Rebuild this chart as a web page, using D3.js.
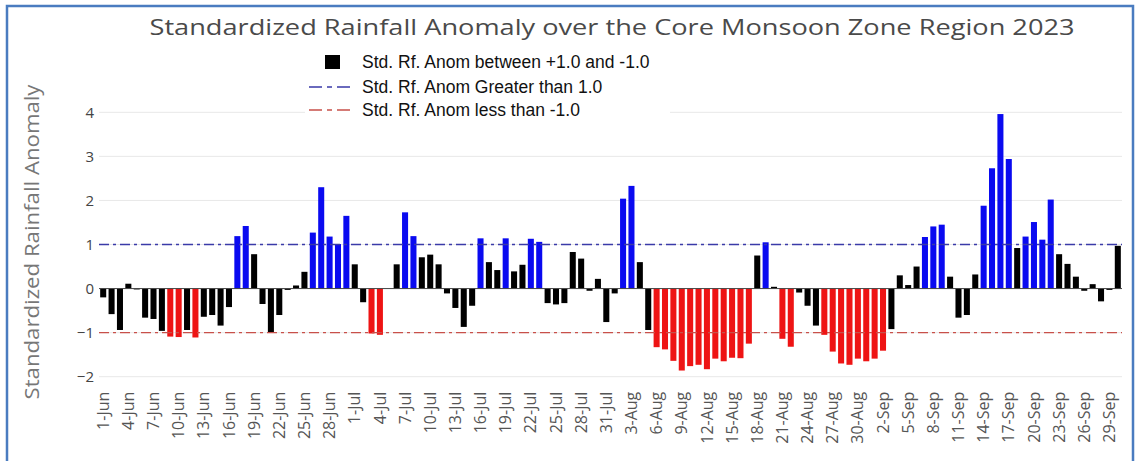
<!DOCTYPE html>
<html>
<head>
<meta charset="utf-8">
<script src="https://cdn.jsdelivr.net/npm/d3@7"></script>
<style>
  html, body { margin: 0; padding: 0; background: #fff; }
  svg { display: block; }
</style>
</head>
<body>
<svg id="chart" width="1135" height="461"></svg>
<script>
// Daily standardized rainfall anomaly, 1 Jun – 30 Sep 2023
const months = ["Jun", "Jul", "Aug", "Sep"];
const monthDays = [30, 31, 31, 30];

const junValues = [
  -0.20, -0.58, -0.94, 0.11, -0.02, -0.66, -0.69, -0.96, -1.09, -1.10,
  -0.94, -1.11, -0.64, -0.60, -0.84, -0.42, 1.19, 1.42, 0.78, -0.35,
  -0.99, -0.60, -0.03, 0.07, 0.38, 1.27, 2.30, 1.18, 1.01, 1.65
];
const julValues = [
  0.55, -0.31, -1.02, -1.05, 0.00, 0.55, 1.73, 1.19, 0.71, 0.77,
  0.55, -0.11, -0.44, -0.87, -0.39, 1.14, 0.60, 0.42, 1.14, 0.39,
  0.54, 1.13, 1.06, -0.33, -0.36, -0.33, 0.83, 0.68, -0.05, 0.22,
  -0.76
];
const augValues = [
  -0.11, 2.04, 2.33, 0.60, -0.94, -1.33, -1.38, -1.64, -1.86, -1.76,
  -1.73, -1.83, -1.59, -1.65, -1.57, -1.58, -1.25, 0.75, 1.05, 0.04,
  -1.14, -1.32, -0.09, -0.39, -0.84, -1.05, -1.43, -1.70, -1.73, -1.59,
  -1.65
];
const sepValues = [
  -1.59, -1.41, -0.92, 0.30, 0.08, 0.50, 1.17, 1.41, 1.45, 0.27,
  -0.66, -0.60, 0.32, 1.88, 2.73, 3.96, 2.94, 0.92, 1.18, 1.51,
  1.11, 2.02, 0.78, 0.56, 0.27, -0.05, 0.10, -0.29, -0.03, 0.97
];

const tickLabels = [
  "1-Jun", "4-Jun", "7-Jun", "10-Jun", "13-Jun", "16-Jun", "19-Jun", "22-Jun", "25-Jun", "28-Jun",
  "1-Jul", "4-Jul", "7-Jul", "10-Jul", "13-Jul", "16-Jul", "19-Jul", "22-Jul", "25-Jul", "28-Jul", "31-Jul",
  "3-Aug", "6-Aug", "9-Aug", "12-Aug", "15-Aug", "18-Aug", "21-Aug", "24-Aug", "27-Aug", "30-Aug",
  "2-Sep", "5-Sep", "8-Sep", "11-Sep", "14-Sep", "17-Sep", "20-Sep", "23-Sep", "26-Sep", "29-Sep"
];
const yTicks = [-2, -1, 0, 1, 2, 3, 4];

const legendItems = [
  "Std. Rf. Anom between +1.0 and -1.0",
  "Std. Rf. Anom Greater than 1.0",
  "Std. Rf. Anom less than -1.0"
];

const titleText = "Standardized Rainfall Anomaly over the Core Monsoon Zone Region 2023";
const yTitle = "Standardized Rainfall Anomaly";

// Category labels for every day of the season
const dates = [];
months.forEach((m, i) => {
  for (let d = 1; d <= monthDays[i]; d++) dates.push(d + "-" + m);
});
const values = [].concat(junValues, julValues, augValues, sepValues);
const data = dates.map((d, i) => ({ date: d, value: values[i] }));

const svg = d3.select("#chart");
const W = 1135, H = 461;
const plot = { left: 99, right: 1122, top: 112.3, bottom: 376.7 };

svg.append("rect").attr("width", W).attr("height", H).attr("fill", "#fff");

const x = d3.scaleBand()
  .domain(dates)
  .range([plot.left, plot.right])
  .paddingInner(0.28)
  .paddingOuter(0.14);

const y = d3.scaleLinear()
  .domain([-2, 4])
  .range([plot.bottom, plot.top]);

const font = "'Open Sans', 'DejaVu Sans', sans-serif";

// Horizontal grid
svg.append("g")
  .selectAll("line")
  .data(yTicks.filter(t => t !== 0))
  .join("line")
  .attr("x1", plot.left).attr("x2", plot.right)
  .attr("y1", d => y(d)).attr("y2", d => y(d))
  .attr("stroke", "#e8e8e8").attr("stroke-width", 1);

// Y axis tick labels
const yAxis = d3.axisLeft(y)
  .tickValues(yTicks)
  .tickSize(0)
  .tickPadding(4)
  .tickFormat(d => d < 0 ? "\u2212" + Math.abs(d) : String(d));
const gy = svg.append("g")
  .attr("transform", `translate(${plot.left - 1},0)`)
  .call(yAxis);
gy.select(".domain").remove();
gy.selectAll("text")
  .attr("font-family", font)
  .attr("font-size", 15)
  .attr("fill", "#444");

// Bars
function barColor(v) {
  if (v > 1) return "#0a0af0";
  if (v < -1) return "#ee1414";
  return "#000";
}
svg.append("g")
  .selectAll("rect")
  .data(data)
  .join("rect")
  .attr("x", d => x(d.date))
  .attr("width", x.bandwidth())
  .attr("y", d => y(Math.max(0, d.value)))
  .attr("height", d => Math.abs(y(d.value) - y(0)))
  .attr("fill", d => barColor(d.value));

// Zero line
svg.append("line")
  .attr("x1", plot.left).attr("x2", plot.right)
  .attr("y1", y(0)).attr("y2", y(0))
  .attr("stroke", "#444").attr("stroke-width", 1);

// Threshold lines at +1 and -1
const thresholds = [
  { v: 1, color: "#3a3aa8" },
  { v: -1, color: "#c8504a" }
];
svg.append("g")
  .selectAll("line")
  .data(thresholds)
  .join("line")
  .attr("x1", plot.left).attr("x2", plot.right)
  .attr("y1", d => y(d.v)).attr("y2", d => y(d.v))
  .attr("stroke", d => d.color)
  .attr("stroke-width", 1.3)
  .attr("stroke-dasharray", "10,4,3,4");

// X axis tick labels (every third day)
const xAxis = d3.axisBottom(x)
  .tickValues(tickLabels)
  .tickSize(0)
  .tickPadding(0);
const gx = svg.append("g")
  .attr("transform", `translate(0,${plot.bottom})`)
  .call(xAxis);
gx.select(".domain").remove();
gx.selectAll("text")
  .attr("font-family", font)
  .attr("font-size", 16)
  .attr("fill", "#555")
  .attr("text-anchor", "end")
  .attr("dy", "0.35em")
  .attr("y", 0)
  .attr("transform", "translate(0,15) rotate(-90)");

// Legend
const lg = svg.append("g");
lg.append("rect")
  .attr("x", 305).attr("y", 48).attr("width", 365).attr("height", 72)
  .attr("fill", "#fff");
const rowY = [62, 87, 110];
lg.append("rect")
  .attr("x", 325).attr("y", 55).attr("width", 15).attr("height", 14)
  .attr("fill", "#000");
lg.selectAll("line")
  .data(thresholds)
  .join("line")
  .attr("x1", 309).attr("x2", 350)
  .attr("y1", (d, i) => rowY[i + 1]).attr("y2", (d, i) => rowY[i + 1])
  .attr("stroke", d => d.color)
  .attr("stroke-width", 1.5)
  .attr("stroke-dasharray", "13,5,5,5");
lg.selectAll("text")
  .data(legendItems)
  .join("text")
  .attr("x", 362)
  .attr("y", (d, i) => rowY[i])
  .attr("dy", "0.35em")
  .attr("font-family", "'Liberation Sans', Arial, sans-serif")
  .attr("font-size", 17.5)
  .attr("fill", "#111")
  .text(d => d);

// Title
svg.append("text")
  .attr("x", 612).attr("y", 28)
  .attr("dy", "0.35em")
  .attr("text-anchor", "middle")
  .attr("font-family", font)
  .attr("font-size", 21)
  .attr("fill", "#4a4a4a")
  .attr("textLength", 925)
  .attr("lengthAdjust", "spacingAndGlyphs")
  .text(titleText);

// Y axis title
svg.append("text")
  .attr("transform", "translate(32,242) rotate(-90)")
  .attr("dy", "0.35em")
  .attr("text-anchor", "middle")
  .attr("font-family", font)
  .attr("font-size", 20)
  .attr("fill", "#777")
  .attr("textLength", 315)
  .attr("lengthAdjust", "spacingAndGlyphs")
  .text(yTitle);

// Frame
svg.append("path")
  .attr("d", `M7,${H} V6 H1133 V${H}`)
  .attr("fill", "none")
  .attr("stroke", "#4a7cc0")
  .attr("stroke-width", 2.5);
</script>
</body>
</html>
